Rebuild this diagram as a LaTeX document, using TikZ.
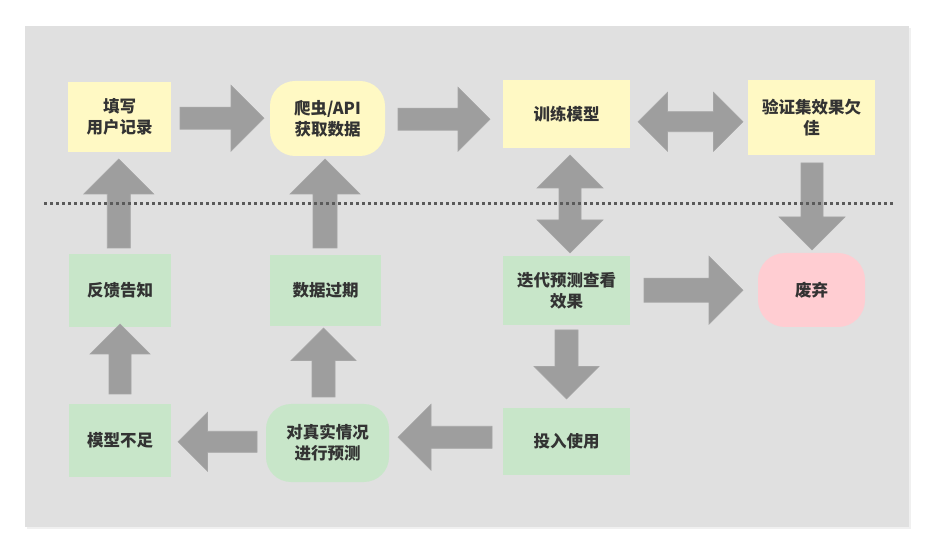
\documentclass[tikz,border=0pt]{standalone}
\usepackage{fontspec}
\newfontfamily\cjk{Noto Sans CJK SC}
\usetikzlibrary{calc}
\definecolor{bggray}{HTML}{E0E0E0}
\definecolor{arrgray}{HTML}{9E9E9E}
\definecolor{arredge}{HTML}{A6A6A6}
\definecolor{ylw}{HTML}{FFF9C4}
\definecolor{grn}{HTML}{C8E6C9}
\definecolor{pnk}{HTML}{FFCDD2}
\definecolor{txt}{HTML}{333333}
\definecolor{dotc}{HTML}{5A5A5A}
\tikzset{
  box/.style={rectangle, inner sep=0pt, align=center, text=txt,
    font=\cjk\bfseries\fontsize{16.5}{21}\selectfont},
  ybox/.style={box, fill=ylw},
  gbox/.style={box, fill=grn},
  pbox/.style={box, fill=pnk},
  blockarrow/.style={fill=arrgray, draw=arredge, line width=0.6pt},
}
% #1 centre, #2 angle, #3 length, #4 shaft width, #5 head width
\newcommand\fatarr[5]{%
  \begin{scope}[shift={#1}, rotate=#2]
    \filldraw[blockarrow] ({-(#3)/2},{-(#4)/2}) -- ({(#3)/2-(#5)/2},{-(#4)/2})
      -- ({(#3)/2-(#5)/2},{-(#5)/2}) -- ({(#3)/2},0) -- ({(#3)/2-(#5)/2},{(#5)/2})
      -- ({(#3)/2-(#5)/2},{(#4)/2}) -- ({-(#3)/2},{(#4)/2}) -- cycle;
  \end{scope}}
\newcommand\fatdbl[5]{%
  \begin{scope}[shift={#1}, rotate=#2]
    \filldraw[blockarrow] ({-(#3)/2},0) -- ({-(#3)/2+(#5)/2},{-(#5)/2})
      -- ({-(#3)/2+(#5)/2},{-(#4)/2}) -- ({(#3)/2-(#5)/2},{-(#4)/2})
      -- ({(#3)/2-(#5)/2},{-(#5)/2}) -- ({(#3)/2},0) -- ({(#3)/2-(#5)/2},{(#5)/2})
      -- ({(#3)/2-(#5)/2},{(#4)/2}) -- ({-(#3)/2+(#5)/2},{(#4)/2})
      -- ({-(#3)/2+(#5)/2},{(#5)/2}) -- cycle;
  \end{scope}}
\begin{document}
\begin{tikzpicture}[x=1pt,y=-1pt]
\useasboundingbox (0,0) rectangle (935,553);
\fill[white] (0,0) rectangle (935,553);
% panel
\fill[black!6] (27,28) rectangle (911,529);
\fill[bggray] (25,26) rectangle (909,527);

% nodes
\node[ybox, minimum width=103pt, minimum height=70pt] (n1) at (119.5,117) {填写\\用户记录};
\node[ybox, rounded corners=25pt, minimum width=115pt, minimum height=75pt] (n2) at (327.5,118.5) {爬虫/API\\获取数据};
\node[ybox, minimum width=127pt, minimum height=68pt] (n3) at (566.5,114) {训练模型};
\node[ybox, minimum width=127pt, minimum height=75pt] (n4) at (811.5,117.5) {验证集效果欠\\佳};
\node[gbox, minimum width=102pt, minimum height=73pt] (n5) at (120,290.5) {反馈告知};
\node[gbox, minimum width=111pt, minimum height=71pt] (n6) at (325.5,290.5) {数据过期};
\node[gbox, minimum width=127pt, minimum height=69pt] (n7) at (566.5,290.5) {迭代预测查看\\效果};
\node[pbox, rounded corners=27pt, minimum width=107pt, minimum height=74pt] (n8) at (811.5,290) {废弃};
\node[gbox, minimum width=102pt, minimum height=73pt] (n9) at (120,440.5) {模型不足};
\node[gbox, rounded corners=25pt, minimum width=123pt, minimum height=78pt] (n10) at (327.5,443) {对真实情况\\进行预测};
\node[gbox, minimum width=127pt, minimum height=67pt] (n11) at (566.5,441.5) {投入使用};

% block arrows: centre taken between the two named nodes
\fatarr{($($(n1.east)!0.5!(n2.west)$)+(1.5,0.5)$)}{0}{84}{22}{66}
\fatarr{($($(n2.east)!0.5!(n3.west)$)+(0,3)$)}{0}{92}{22}{64}
\fatdbl{($($(n3.east)!0.5!(n4.west)$)+(1.5,6)$)}{0}{105}{20}{59}
\fatarr{($($(n4.south)!0.5!(n8.north)$)+(0.5,2.5)$)}{270}{87}{22}{66}
\fatdbl{($($(n3.south)!0.5!(n7.north)$)+(3.5,2)$)}{90}{98}{22}{66}
\fatarr{($($(n7.east)!0.5!(n8.west)$)+(-0.5,0)$)}{0}{99}{24}{68}
\fatarr{($($(n7.south)!0.5!(n11.north)$)+(0,-2)$)}{270}{69}{23}{65}
\fatarr{($($(n11.west)!0.5!(n10.east)$)+(-1,-5)$)}{180}{94}{22}{66}
\fatarr{($($(n10.west)!0.5!(n9.east)$)+(-1,0)$)}{180}{79}{21}{59}
\fatarr{($($(n9.north)!0.5!(n5.south)$)+(0,-6.5)$)}{90}{70}{22}{60}
\fatarr{($($(n10.north)!0.5!(n6.south)$)+(-3,-2.5)$)}{90}{69}{23}{65}
\fatarr{($($(n5.north)!0.5!(n1.south)$)+(-1,0.5)$)}{90}{89}{23}{70}
\fatarr{($($(n6.north)!0.5!(n2.south)$)+(-1.5,-2)$)}{90}{89}{24}{70}

% dotted separator
\coordinate (d1) at (44,203.5);
\coordinate (d2) at (894,203.5);
\draw[dotc, line width=3pt, dash pattern=on 3pt off 3pt] (d1) -- (d2);
\end{tikzpicture}
\end{document}
